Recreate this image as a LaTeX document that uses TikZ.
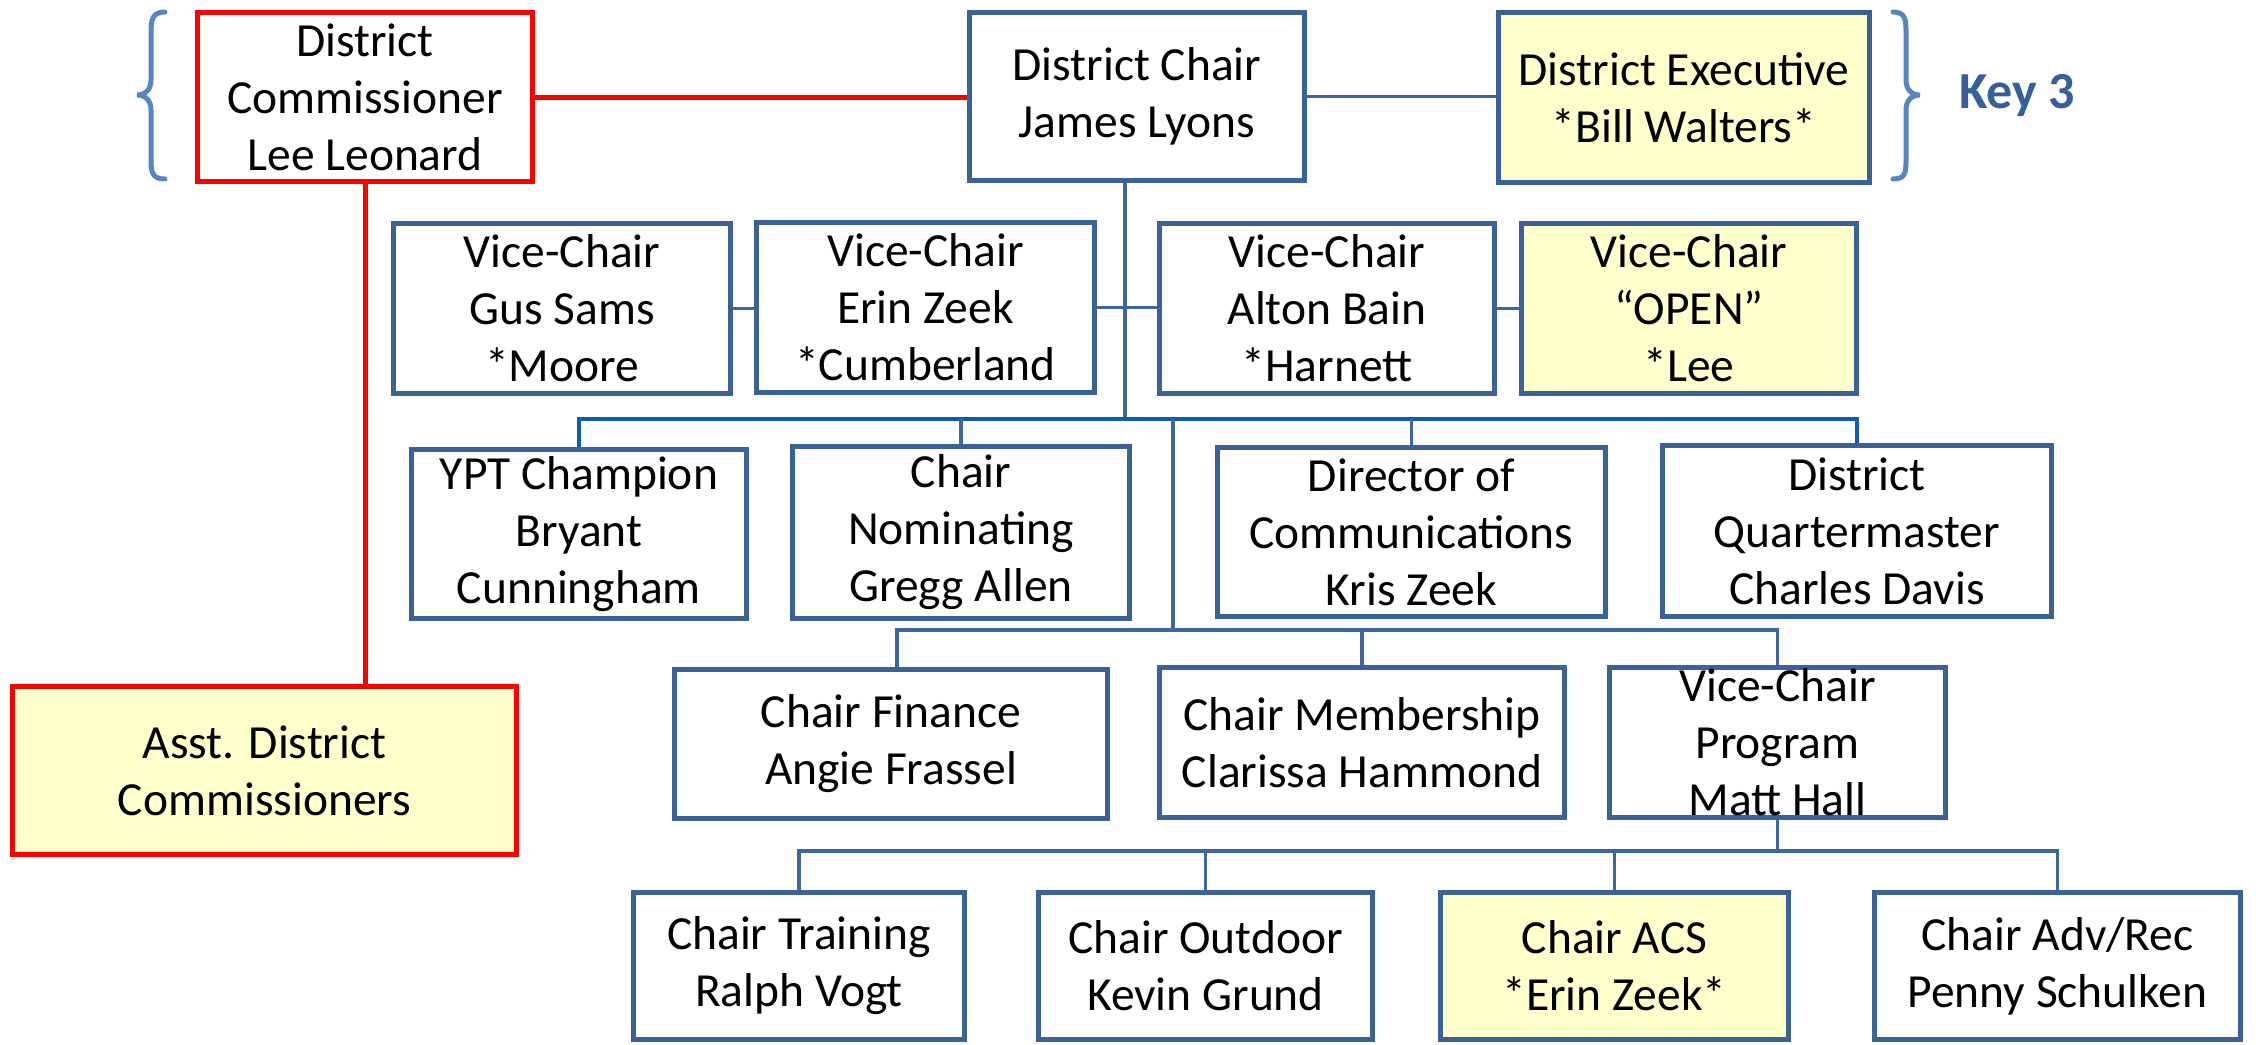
\documentclass[tikz,border=0pt]{standalone}
\usepackage{fontspec}
\setmainfont{Carlito}
\definecolor{boxblue}{HTML}{3B6296}
\definecolor{lineblue}{HTML}{3D67A0}
\definecolor{busblue}{HTML}{0D5DA8}
\definecolor{braceblue}{HTML}{5585C2}
\definecolor{keyblue}{HTML}{36609A}
\definecolor{pale}{HTML}{FFFFCC}
\definecolor{redc}{HTML}{FF0000}
\begin{document}
\begin{tikzpicture}[x=1pt,y=-1pt,
  box/.style={draw=boxblue, line width=5pt, fill=white, inner sep=0pt, align=center,
    font=\fontsize{47.5}{57}\selectfont},
  yelbox/.style={box, fill=pale},
  redbox/.style={draw=redc},
  conn/.style={draw=lineblue, line width=3.5pt},
  busline/.style={draw=busblue, line width=4pt},
  redline/.style={draw=redc, line width=5pt},
  bracestyle/.style={draw=braceblue, line width=5pt, line cap=round},
]
\fill[white] (0,0) rectangle (2259,1044);
\useasboundingbox (0,0) rectangle (2259,1044);

\coordinate (t1) at (1125,419);
\coordinate (t2) at (1173,419);
\coordinate (fb) at (1173,630);
\coordinate (bb) at (1777,851);

% Top row
\node[box, redbox, minimum width=335pt, minimum height=169pt] (dc) at (365,97) {District\\Commissioner\\Lee Leonard};
\node[box, minimum width=335pt, minimum height=168pt] (chair) at (1137,96.5) {District Chair\\James Lyons};
\node[yelbox, minimum width=371pt, minimum height=170pt] (exec) at (1684,97.5) {District Executive\\*Bill Walters*};

% Vice chairs
\node[box, minimum width=337pt, minimum height=170pt] (vc1) at (562,308.5) {Vice-Chair\\Gus Sams\\*Moore};
\node[box, minimum width=338pt, minimum height=170pt] (vc2) at (925.5,307.5) {Vice-Chair\\Erin Zeek\\*Cumberland};
\node[box, minimum width=335pt, minimum height=170pt] (vc3) at (1327,308.5) {Vice-Chair\\Alton Bain\\*Harnett};
\node[yelbox, minimum width=335pt, minimum height=170pt] (vc4) at (1689,308.5) {Vice-Chair\\“OPEN”\\*Lee};

% Third row
\node[box, minimum width=335pt, minimum height=169pt] (ypt) at (579,534) {YPT Champion\\Bryant\\Cunningham};
\node[box, minimum width=337pt, minimum height=172pt] (nom) at (961,532.5) {Chair\\Nominating\\Gregg Allen};
\node[box, minimum width=388pt, minimum height=169pt] (dir) at (1411.5,532) {Director of\\Communications\\Kris Zeek};
\node[box, minimum width=389pt, minimum height=171pt] (qm) at (1857,531) {District\\Quartermaster\\Charles Davis};

% Fourth row
\node[box, minimum width=433pt, minimum height=149pt] (fin) at (891,744) {Chair Finance\\Angie Frassel};
\node[box, minimum width=405pt, minimum height=150pt] (mem) at (1362,742.5) {Chair Membership\\Clarissa Hammond};
\node[box, minimum width=336pt, minimum height=150pt] (prog) at (1777.5,742.5) {Vice-Chair\\Program\\Matt Hall};
\node[yelbox, redbox, minimum width=504pt, minimum height=168pt] (asst) at (264.5,770.5) {Asst. District\\Commissioners};

% Bottom row
\node[box, minimum width=331pt, minimum height=147pt] (trn) at (799,966) {Chair Training\\Ralph Vogt};
\node[box, minimum width=334pt, minimum height=147pt] (out) at (1205.5,966) {Chair Outdoor\\Kevin Grund};
\node[yelbox, minimum width=348pt, minimum height=147pt] (acs) at (1614.5,966) {Chair ACS\\*Erin Zeek*};
\node[box, minimum width=366pt, minimum height=147pt] (adv) at (2057.5,966) {Chair Adv/Rec\\Penny Schulken};

% Key 3 label
\node[anchor=base, text=keyblue, font=\bfseries\fontsize{52}{60}\selectfont] (key) at (2017,108) {Key 3};

% Connectors
\draw[redline] (dc.east) -- (dc.east -| chair.west);
\draw[redline] (dc.south) -- (dc.south |- asst.north);
\draw[conn] (chair.east) -- (chair.east -| exec.west);

\draw[conn] (chair.south -| t1) -- (t1);
\draw[conn] (vc1.east) -- (vc1.east -| vc2.west);
\draw[conn] (vc2.east) -- (vc2.east -| vc3.west);
\draw[conn] (vc3.east) -- (vc3.east -| vc4.west);

\draw[busline] (ypt.north) |- (qm.north |- t1) -- (qm.north);
\draw[conn] (nom.north) -- (nom.north |- t1);
\draw[conn] (dir.north) -- (dir.north |- t1);

\draw[conn] (t2) -- (fb);
\draw[conn] ([xshift=6pt]fin.north) |- (prog.north |- fb) -- (prog.north);
\draw[conn] (mem.north) -- (mem.north |- fb);

\draw[conn] (prog.south) -- (prog.south |- bb);
\draw[conn] (trn.north) |- (adv.north |- bb) -- (adv.north);
\draw[conn] (out.north) -- (out.north |- bb);
\draw[conn] (acs.north) -- (acs.north |- bb);

% Braces
\draw[bracestyle] (165,12) .. controls (154,12) and (151,18) .. (151,30) -- (151,80)
  .. controls (151,89) and (146,95) .. (137,95)
  .. controls (146,95) and (151,101) .. (151,110) -- (151,162)
  .. controls (151,174) and (154,179) .. (165,179);
\draw[bracestyle] (1893,12) .. controls (1904,12) and (1906,18) .. (1906,30) -- (1906,80)
  .. controls (1906,89) and (1911,95) .. (1920,95)
  .. controls (1911,95) and (1906,101) .. (1906,110) -- (1906,162)
  .. controls (1906,174) and (1904,179) .. (1893,179);
\end{tikzpicture}
\end{document}
